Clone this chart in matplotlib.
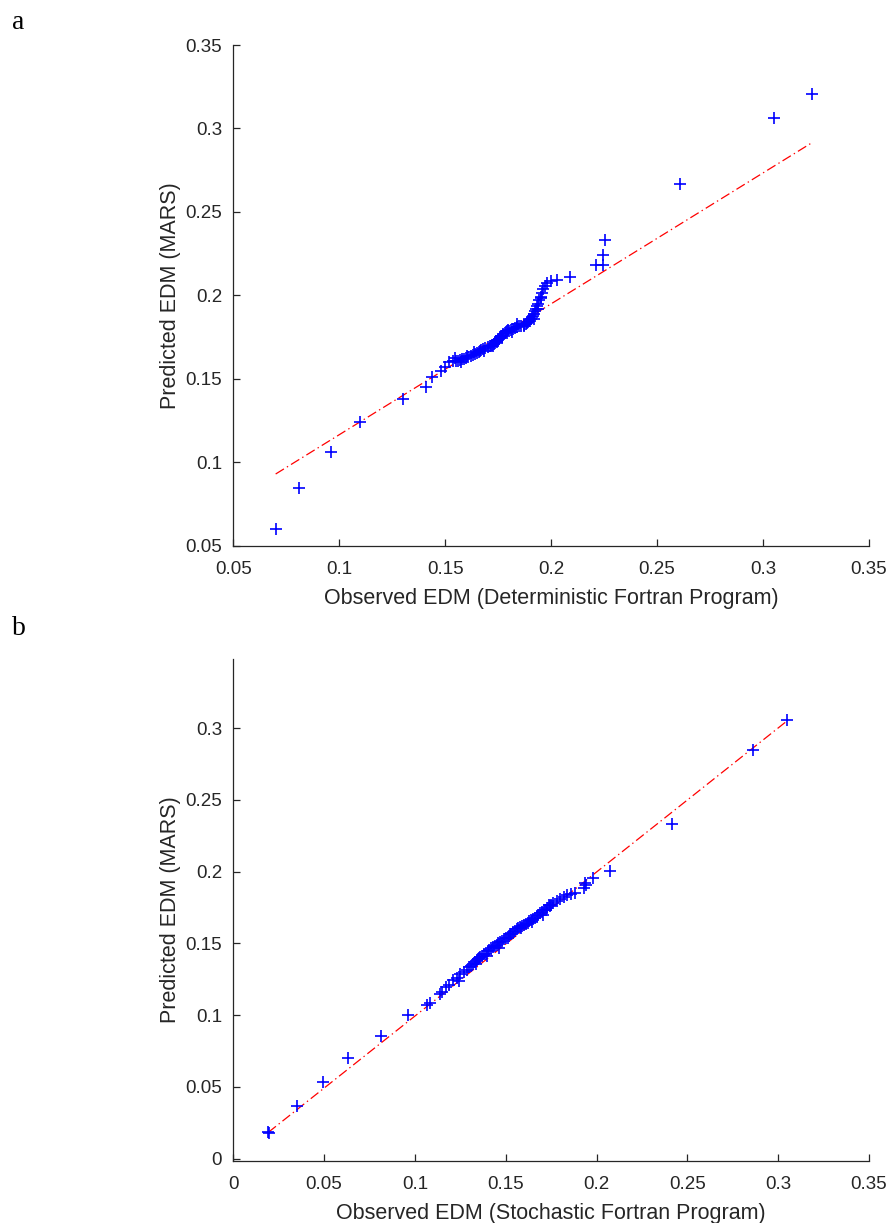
import numpy as np
import matplotlib
matplotlib.use("Agg")
import matplotlib.pyplot as plt
from matplotlib.ticker import FuncFormatter

plt.rcParams['font.family'] = ['Liberation Sans', 'DejaVu Sans']
plt.rcParams['lines.scale_dashes'] = False

## (a) deterministic run: observed vs MARS predicted
obs_a = [0.070, 0.081, 0.096, 0.110, 0.130, 0.141, 0.144, 0.148, 0.150, 0.152,
         0.1535, 0.155, 0.156, 0.157, 0.158, 0.159, 0.160, 0.161, 0.162, 0.163,
         0.164, 0.165, 0.166, 0.1665, 0.167, 0.168, 0.169, 0.170, 0.171, 0.1715,
         0.172, 0.173, 0.1735, 0.174, 0.175, 0.1755, 0.176, 0.1765, 0.177, 0.1775,
         0.178, 0.1785, 0.179, 0.180, 0.181, 0.182, 0.183, 0.184, 0.185, 0.186,
         0.187, 0.188, 0.1885, 0.189, 0.190, 0.1905, 0.191, 0.1915, 0.192, 0.1925,
         0.193, 0.1935, 0.194, 0.1945, 0.195, 0.1955, 0.196, 0.197, 0.198, 0.200,
         0.203, 0.209, 0.221, 0.2245, 0.2245, 0.2255, 0.261, 0.305, 0.323,
         0.1545, 0.1575, 0.1605, 0.1635, 0.1685, 0.1725, 0.1745, 0.1770, 0.1795,
         0.1815, 0.1840, 0.1870, 0.1895, 0.1920, 0.1940, 0.1950]
pred_a = [0.060, 0.085, 0.106, 0.124, 0.138, 0.145, 0.151, 0.155, 0.157, 0.160,
          0.1605, 0.161, 0.161, 0.1615, 0.162, 0.162, 0.1625, 0.163, 0.1635, 0.1645,
          0.165, 0.1655, 0.166, 0.167, 0.1675, 0.168, 0.1685, 0.169, 0.1695, 0.170,
          0.1705, 0.171, 0.1715, 0.1725, 0.1735, 0.174, 0.175, 0.1755, 0.176, 0.177,
          0.1775, 0.178, 0.1785, 0.179, 0.1795, 0.180, 0.1805, 0.181, 0.1815, 0.182,
          0.1825, 0.183, 0.1835, 0.184, 0.185, 0.186, 0.187, 0.188, 0.189, 0.1905,
          0.192, 0.1935, 0.195, 0.197, 0.199, 0.2015, 0.204, 0.2055, 0.2075, 0.2085,
          0.209, 0.211, 0.218, 0.218, 0.224, 0.2335, 0.2665, 0.306, 0.3205,
          0.1625, 0.1600, 0.1640, 0.1660, 0.1665, 0.1700, 0.1720, 0.1745, 0.1795,
          0.1780, 0.1830, 0.1815, 0.1860, 0.1860, 0.1920, 0.1985]
fit_a = (0.784, 0.0382)   # slope, intercept

## (b) stochastic run
obs_b = [0.0193, 0.0197, 0.035, 0.0496, 0.063, 0.0813, 0.0964, 0.1068, 0.1083, 0.1138,
         0.1150, 0.117, 0.119, 0.121, 0.123, 0.125, 0.127, 0.1285, 0.130, 0.131,
         0.132, 0.133, 0.134, 0.135, 0.1355, 0.136, 0.137, 0.138, 0.139, 0.140,
         0.141, 0.142, 0.143, 0.144, 0.145, 0.146, 0.147, 0.148, 0.149, 0.150,
         0.151, 0.152, 0.153, 0.154, 0.155, 0.156, 0.157, 0.158, 0.159, 0.160,
         0.161, 0.162, 0.163, 0.164, 0.165, 0.166, 0.167, 0.168, 0.169, 0.170,
         0.171, 0.172, 0.173, 0.174, 0.175, 0.176, 0.178, 0.180, 0.182, 0.184,
         0.186, 0.188, 0.193, 0.1935, 0.194, 0.198, 0.2075, 0.2417, 0.2863, 0.3051,
         0.1245, 0.1335, 0.1395, 0.1465, 0.1525, 0.1585, 0.1645, 0.1705, 0.1745]
pred_b = [0.0184, 0.0176, 0.0369, 0.0537, 0.0704, 0.0855, 0.1002, 0.1071, 0.1087, 0.1148,
          0.1164, 0.1195, 0.121, 0.1246, 0.126, 0.1285, 0.130, 0.1315, 0.1335, 0.134,
          0.1355, 0.137, 0.1385, 0.139, 0.140, 0.1405, 0.1415, 0.1425, 0.143, 0.1445,
          0.1455, 0.1465, 0.1478, 0.1485, 0.149, 0.150, 0.151, 0.152, 0.153, 0.1536,
          0.154, 0.1555, 0.1565, 0.158, 0.159, 0.160, 0.1605, 0.1617, 0.1625, 0.163,
          0.1635, 0.1645, 0.1655, 0.1664, 0.167, 0.168, 0.169, 0.170, 0.171, 0.172,
          0.173, 0.1733, 0.175, 0.1765, 0.177, 0.178, 0.1795, 0.181, 0.1825, 0.1838,
          0.1845, 0.185, 0.1885, 0.192, 0.1905, 0.1954, 0.2005, 0.2331, 0.2847, 0.3058,
          0.1240, 0.1355, 0.1410, 0.1470, 0.1565, 0.1605, 0.1650, 0.1700, 0.1760]
fit_b = (1.004, -0.0010)

ticks_a = [0.05, 0.1, 0.15, 0.2, 0.25, 0.3, 0.35]
xticks_b = [0, 0.05, 0.1, 0.15, 0.2, 0.25, 0.3, 0.35]
yticks_b = [0, 0.05, 0.1, 0.15, 0.2, 0.25, 0.3]

AXC = '#262626'


def panel(ax, obs, pred, fit, xlabel):
    x = np.array([min(obs), max(obs)])
    ax.plot(x, fit[0] * x + fit[1], color='red', lw=0.9,
            ls=(0, (7, 2.5, 1, 2.5)), zorder=1)
    ax.plot(obs, pred, '+', color='blue', ms=9, mew=1.2, zorder=2)
    for s in ['top', 'right']:
        ax.spines[s].set_visible(False)
    for s in ['left', 'bottom']:
        ax.spines[s].set_color(AXC)
        ax.spines[s].set_linewidth(0.9)
    ax.tick_params(direction='in', length=5, width=0.9, colors=AXC,
                   labelsize=13.5)
    ax.tick_params(axis='x', pad=11)
    ax.tick_params(axis='y', pad=8)
    ax.xaxis.set_major_formatter(FuncFormatter(lambda v, p: '%g' % round(v, 3)))
    ax.yaxis.set_major_formatter(FuncFormatter(lambda v, p: '%g' % round(v, 3)))
    ax.set_xlabel(xlabel, fontsize=15.5, color=AXC, labelpad=7)
    ax.set_ylabel('Predicted EDM (MARS)', fontsize=15.5, color=AXC, labelpad=3)


fig = plt.figure(figsize=(8.9, 12.23), dpi=100)

ax1 = fig.add_axes([0.2621, 0.5536, 0.7143, 0.4096])
panel(ax1, obs_a, pred_a, fit_a, 'Observed EDM (Deterministic Fortran Program)')
ax1.set_xlim(0.05, 0.35)
ax1.set_ylim(0.05, 0.35)
ax1.set_xticks(ticks_a)
ax1.set_yticks(ticks_a)

ax2 = fig.add_axes([0.2621, 0.0507, 0.7143, 0.4105])
panel(ax2, obs_b, pred_b, fit_b, 'Observed EDM (Stochastic Fortran Program)')
ax2.set_xlim(0, 0.35)
ax2.set_ylim(-0.0016, 0.3483)
ax2.set_xticks(xticks_b)
ax2.set_yticks(yticks_b)

fig.text(0.013, 0.982, 'a', family='Liberation Serif', fontsize=20, va='center')
fig.text(0.013, 0.4865, 'b', family='Liberation Serif', fontsize=20, va='center')

fig.savefig('out.png', dpi=100)
